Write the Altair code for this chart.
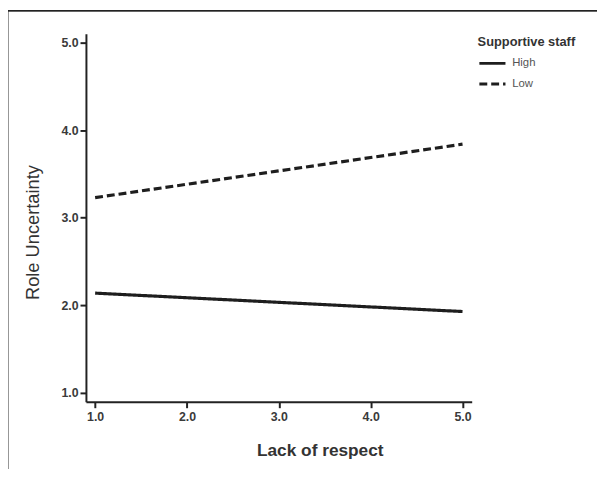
import altair as alt
import pandas as pd

# Data
lack_of_respect = [1.0, 5.0, 1.0, 5.0]
role_uncertainty = [2.14, 1.93, 3.23, 3.84]
supportive_staff = ["High", "High", "Low", "Low"]

x_ticks = [1.0, 2.0, 3.0, 4.0, 5.0]
y_ticks = [1.0, 2.0, 3.0, 4.0, 5.0]

df = pd.DataFrame({
    "Lack of respect": lack_of_respect,
    "Role Uncertainty": role_uncertainty,
    "Supportive staff": supportive_staff,
})

W, H = 391, 373
FONT = "Liberation Sans"

lines = alt.Chart(df).mark_line(color="#1e1e1e", strokeWidth=3.2, clip=False).encode(
    x=alt.X("Lack of respect:Q",
            scale=alt.Scale(domain=[0.9, 5.1], nice=False, zero=False),
            axis=alt.Axis(values=x_ticks, format=".1f", grid=False,
                          domainColor="#222", domainWidth=2,
                          tickColor="#222", tickWidth=2, tickSize=6,
                          labelFont=FONT, labelFontWeight="bold",
                          labelFontSize=12.5, labelColor="#3a3a3a", labelPadding=3,
                          title="Lack of respect", titleFont=FONT,
                          titleFontSize=17.5, titleFontWeight="bold", titleColor="#333",
                          titleX=237, titleY=40)),
    y=alt.Y("Role Uncertainty:Q",
            scale=alt.Scale(domain=[0.9, 5.1], nice=False, zero=False),
            axis=alt.Axis(values=y_ticks, format=".1f", grid=False,
                          domainColor="#222", domainWidth=2,
                          tickColor="#222", tickWidth=2, tickSize=6,
                          labelFont=FONT, labelFontWeight="bold",
                          labelFontSize=12.5, labelColor="#3a3a3a", labelPadding=2,
                          title="Role Uncertainty", titleFont=FONT,
                          titleFontSize=18.5, titleFontWeight="normal", titleColor="#333",
                          titleX=-44, titleY=201)),
    strokeDash=alt.StrokeDash("Supportive staff:N",
            scale=alt.Scale(domain=["High", "Low"], range=[[1, 0], [8, 4]]),
            legend=alt.Legend(orient="none", legendX=397, legendY=2,
                              title="Supportive staff", titleFont=FONT,
                              titleFontSize=13, titleFontWeight="bold",
                              titleColor="#333", titlePadding=0,
                              labelFont=FONT, labelFontSize=11.5,
                              labelColor="#555", symbolType="stroke",
                              symbolSize=700, symbolStrokeWidth=3,
                              symbolStrokeColor="#1e1e1e", rowPadding=-8,
                              labelOffset=5)),
)

frame = alt.Chart(df).mark_rect(filled=False, stroke="#222", strokeWidth=1.3).encode(
    x=alt.value(-79.5), x2=alt.value(700), y=alt.value(-23.5), y2=alt.value(700)
)

chart = alt.layer(frame, lines).properties(
    width=W, height=H,
    autosize=alt.AutoSizeParams(type="none"),
    padding={"left": 79, "top": 23, "right": 127, "bottom": 65},
    background="white",
).configure_view(strokeWidth=0, stroke="transparent")

chart.save("out.html", embed_options={"renderer": "svg", "actions": False})
